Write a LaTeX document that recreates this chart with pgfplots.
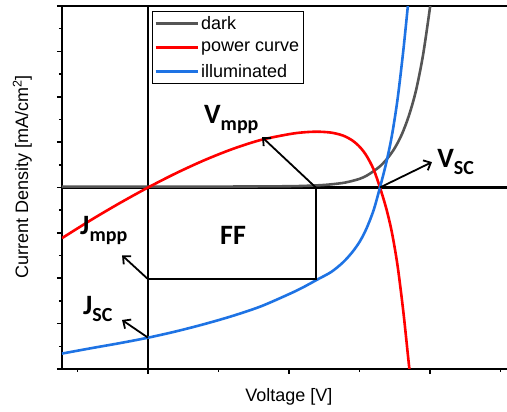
\documentclass[border=0pt]{standalone}
\usepackage{fontspec}
\setmainfont{Liberation Sans}
\newfontfamily\calib{Carlito}
\usepackage{pgfplots}
\pgfplotsset{compat=1.18}
\usetikzlibrary{arrows.meta}

\definecolor{darkcurve}{RGB}{85,85,85}
\definecolor{illum}{RGB}{30,115,228}

% bold annotation with a subscript
\newcommand{\ann}[2]{{\calib\bfseries\fontsize{28}{30}\selectfont #1\raisebox{-0.25em}{\fontsize{20}{20}\selectfont #2}}}

\pgfplotstableread{
V J
-0.61 0.02
0.0 0.02
0.5 0.02
1.0 0.028
1.2 0.047
1.3 0.07
1.4 0.11
1.5 0.19
1.55 0.26
1.6 0.36
1.65 0.48
1.7 0.65
1.75 0.87
1.8 1.17
1.85 1.58
1.9 2.13
1.95 2.91
2.0 3.97
2.02 4.49
}\darkdata

\pgfplotstableread{
V J
-0.61 -3.66
-0.4 -3.54
-0.2 -3.43
0 -3.31
0.2 -3.17
0.4 -3.01
0.6 -2.83
0.8 -2.62
1.0 -2.35
1.1 -2.20
1.2 -2.03
1.3 -1.86
1.383 -1.65
1.45 -1.42
1.504 -1.18
1.55 -0.90
1.6 -0.50
1.645 0
1.69 0.55
1.73 1.15
1.77 1.95
1.81 3.0
1.842 3.97
1.86 4.5
}\illumdata

\pgfplotstableread{
V P
-0.61 -1.116
-0.4 -0.708
-0.2 -0.343
0 0
0.2 0.317
0.4 0.602
0.6 0.849
0.8 1.048
1.0 1.175
1.1 1.215
1.2 1.23
1.3 1.209
1.383 1.145
1.45 1.035
1.504 0.887
1.55 0.698
1.6 0.40
1.645 0
1.69 -0.465
1.73 -0.995
1.77 -1.726
1.81 -2.715
1.842 -3.656
1.86 -4.185
}\powerdata

\begin{document}
\begin{tikzpicture}
\begin{axis}[
  at={(0,0)}, anchor=south west,
  scale only axis, width=445pt, height=363pt,
  xmin=-0.61, xmax=2.546, ymin=-4, ymax=4,
  axis x line=box, axis y line=left, separate axis lines,
  axis line style={-, line width=2.3pt},
  tick pos=left, tick align=outside,
  xtick={0,1,2}, ytick={-4,-3,...,4},
  minor xtick={-0.5,0.5,1.5,2.5}, minor ytick={-3.5,-2.5,...,3.5},
  xticklabels={}, yticklabels={},
  major tick length=5pt, minor tick length=3pt,
  every tick/.style={black, line width=1.5pt},
  xlabel={Voltage [V]},
  ylabel={Current Density [mA/cm\textsuperscript{2}]},
  label style={font=\fontsize{18}{20}\selectfont},
  xlabel style={at={(axis description cs:0.51,0)}, anchor=base, yshift=-33pt},
  ylabel style={at={(axis description cs:-0.0764,0.529)}, anchor=base},
  legend style={at={(axis description cs:0.202,0.986)}, anchor=north west,
    draw=black, line width=0.9pt, fill=white,
    font=\fontsize{18}{20}\selectfont,
    inner xsep=2pt, inner ysep=3pt, row sep=7pt},
  legend cell align=left,
  legend image code/.code={\draw[#1, line width=2.8pt] (0pt,0pt) -- (42pt,0pt);},
]
% zero lines
\draw[black, line width=2.2pt] (axis cs:0,-4) -- (axis cs:0,4);
\draw[black, line width=2.2pt] (axis cs:-0.61,0) -- (axis cs:2.546,0);

\addplot[darkcurve, line width=2.6pt, smooth] table[x=V, y=J] {\darkdata};
\addlegendentry{dark}
\addplot[red, line width=2.6pt, smooth] table[x=V, y=P] {\powerdata};
\addlegendentry{power curve}
\addplot[illum, line width=2.6pt, smooth] table[x=V, y=J] {\illumdata};
\addlegendentry{illuminated}

% fill factor rectangle
\addplot[black, line width=1.6pt, forget plot] coordinates {(1.19,0) (1.19,-2.02) (0,-2.02)};

% arrows
\draw[black, line width=1.8pt, -{Straight Barb[length=6pt, width=11pt]}] (axis cs:1.19,0) -- (axis cs:0.809,1.11);
\draw[black, line width=1.8pt, -{Straight Barb[length=6pt, width=11pt]}] (axis cs:1.645,0) -- (axis cs:2.014,0.56);
\draw[black, line width=1.8pt, -{Straight Barb[length=6pt, width=11pt]}] (axis cs:0,-2.02) -- (axis cs:-0.184,-1.495);
\draw[black, line width=1.8pt, -{Straight Barb[length=6pt, width=11pt]}] (axis cs:0,-3.31) -- (axis cs:-0.184,-2.92);

% labels
\node[anchor=base west, inner sep=0pt] at (axis cs:0.397,1.418) {\ann{V}{mpp}};
\node[anchor=base west, inner sep=0pt] at (axis cs:2.050,0.451) {\ann{V}{SC}};
\node[anchor=base west, inner sep=0pt] at (axis cs:-0.482,-1.044) {\ann{J}{mpp}};
\node[anchor=base west, inner sep=0pt] at (axis cs:-0.461,-2.80) {\ann{J}{SC}};
\node[anchor=base, inner sep=0pt] at (axis cs:0.603,-1.264) {\calib\bfseries\fontsize{28}{30}\selectfont FF};
\end{axis}
\pgfresetboundingbox
\useasboundingbox (-62pt,-43pt) rectangle (445pt,369pt);
\end{tikzpicture}
\end{document}
